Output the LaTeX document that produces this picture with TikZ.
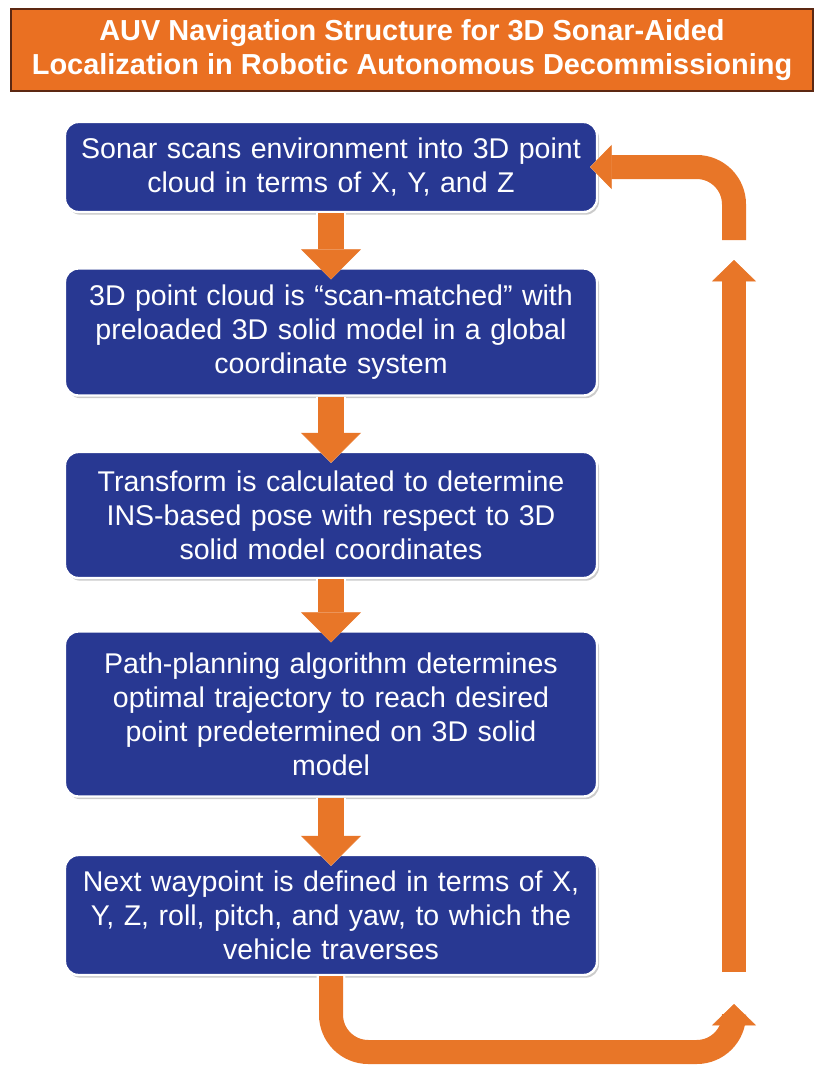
\documentclass[tikz,border=0pt]{standalone}
\usepackage{fontspec}
\setmainfont{Liberation Sans}
\usepackage{tikz}
\usetikzlibrary{arrows.meta,shadows}
\definecolor{auvblue}{RGB}{40,56,146}
\definecolor{auvorange}{RGB}{234,112,34}
\definecolor{auvarrow}{RGB}{232,118,40}
\definecolor{auvbrown}{RGB}{92,40,18}
\tikzset{
  auv-title/.style={draw=auvbrown, fill=auvorange, line width=2pt, text=white, align=center,
    font=\bfseries\fontsize{21.7}{25}\selectfont, minimum width=601.5pt, minimum height=61.5pt},
  auv-step/.style={draw=white, fill=auvblue, rounded corners=10pt, line width=1.8pt, text=white,
    align=center, font=\fontsize{21.4}{25.5}\selectfont, text width=380pt, inner xsep=9.5pt,
    drop shadow={shadow xshift=1.5pt, shadow yshift=-2pt, opacity=0.45, fill=black!45}},
  auv-down/.style={draw=auvarrow, line width=19.5pt, shorten >=-9pt,
    -{Triangle[length=22.5pt, width=45pt, line width=0.4pt]},
    preaction={draw=white, line width=23pt, shorten >=-9pt,
      -{Triangle[length=25pt, width=50pt, line width=0.4pt]}}},
  auv-loop/.style={draw=auvarrow, line width=18pt, rounded corners=28pt,
    -{Triangle[length=16pt, width=33pt, line width=0.4pt]},
    preaction={draw=white, line width=21.5pt,
      -{Triangle[length=18pt, width=37pt, line width=0.4pt]}}}
}

\begin{document}
\begin{tikzpicture}[x=0.75pt, y=0.75pt]
  \useasboundingbox (0,0) rectangle (817,-1089);
  \node[auv-title] (title) at (412,-50) {AUV Navigation Structure for 3D Sonar-Aided\\Localization in Robotic Autonomous Decommissioning};
  \foreach \name/\y/\h/\txt in {
    s1/167/67.5pt/{Sonar scans environment into 3D point\\cloud in terms of X, Y, and Z},
    s2/332/95.25pt/{3D point cloud is ``scan-matched'' with\\preloaded 3D solid model in a global\\coordinate system},
    s3/515/94.5pt/{Transform is calculated to determine\\INS-based pose with respect to 3D\\solid model coordinates},
    s4/714/123.75pt/{Path-planning algorithm determines\\optimal trajectory to reach desired\\point predetermined on 3D solid\\model},
    s5/915/90pt/{Next waypoint is defined in terms of X,\\Y, Z, roll, pitch, and yaw, to which the\\vehicle traverses}} {
    \node[auv-step, minimum height=\h] (\name) at (331,-\y) {\txt};
  }
  \draw[auv-down] (s1.south) -- (s2.north);
  \draw[auv-down] (s2.south) -- (s3.north);
  \draw[auv-down] (s3.south) -- (s4.north);
  \draw[auv-down] (s4.south) -- (s5.north);
  \coordinate (loop-corner) at (734,-1052);
  \coordinate (loop-head) at (734,-1004);
  \coordinate (rise-bot) at (734,-972);
  \coordinate (rise-top) at (734,-260);
  \coordinate (back-start) at (734,-240);
  \draw[auv-loop] (s5.south) |- (loop-corner) -- (loop-head);
  \draw[auv-loop] (rise-bot) -- (rise-top);
  \draw[auv-loop, shorten >=-6pt] (back-start) |- (s1.east);
\end{tikzpicture}
\end{document}
